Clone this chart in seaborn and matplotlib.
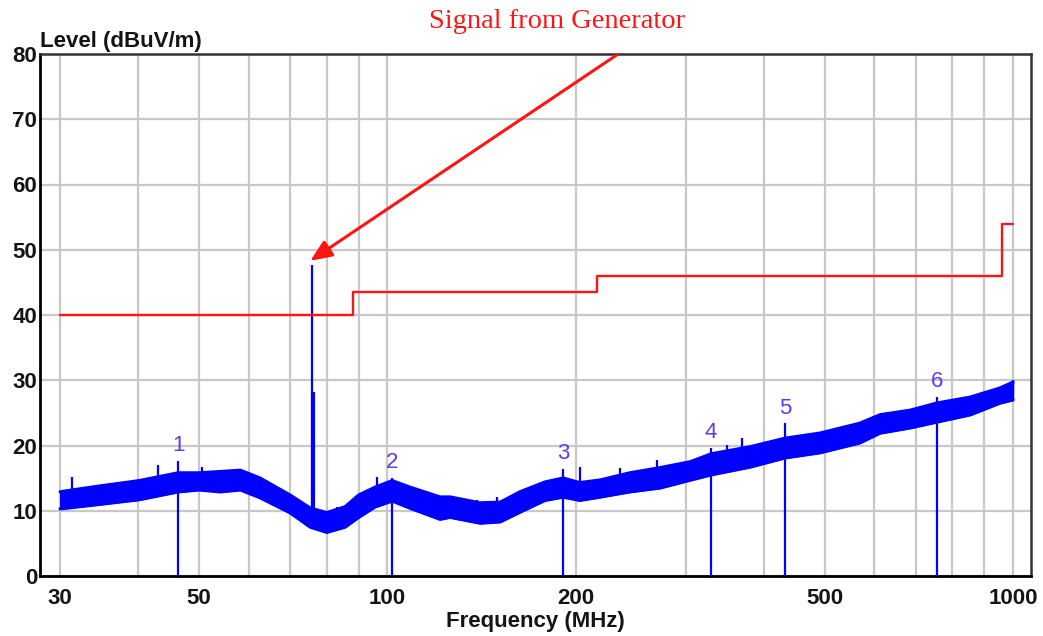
import matplotlib
matplotlib.use("Agg")
import matplotlib.pyplot as plt
import pandas as pd
import seaborn as sns
from matplotlib.ticker import FixedLocator, NullFormatter, FixedFormatter

# Measured trace envelope: frequency (MHz) with lower / upper level (dBuV/m)
trace_freq = [30, 34.8, 40.1, 46.3, 50, 54.1, 58.2, 62.6, 69.9, 75.3,
              80, 85.6, 90, 95.6, 101.8, 108.7, 121.4, 126, 140.7, 151.5,
              163, 178.7, 191, 203, 218.8, 244, 273, 305, 329, 380,
              432, 492, 569, 613, 685, 756, 854, 953, 1000]
trace_low = [10.3, 11.0, 11.7, 12.9, 13.2, 12.9, 13.2, 12.0, 9.7, 7.5,
             6.7, 7.5, 9.0, 10.6, 11.5, 10.4, 8.7, 9.0, 8.1, 8.3,
             9.8, 11.6, 12.1, 11.6, 12.1, 12.9, 13.5, 14.7, 15.5, 16.7,
             18.1, 18.9, 20.4, 21.9, 22.7, 23.6, 24.7, 26.5, 27.0]
trace_high = [12.9, 13.8, 14.6, 15.8, 15.8, 16.0, 16.2, 15.0, 12.4, 10.4,
              9.7, 10.6, 12.4, 13.6, 14.6, 13.6, 12.1, 12.1, 11.2, 11.3,
              12.9, 14.4, 15.0, 14.3, 14.7, 15.8, 16.6, 17.5, 18.7, 19.8,
              21.1, 21.9, 23.4, 24.7, 25.4, 26.5, 27.4, 28.8, 29.7]

# Isolated noise peaks rising above the trace
peak_freq = [31.3, 43.0, 50.6, 57.6, 83.0, 96.1, 139, 149.6, 203, 235,
             270, 349, 369, 569, 630, 1000]
peak_base = [11.0, 13.0, 14.0, 14.0, 8.0, 12.0, 9.0, 9.0, 13.0, 14.0,
             15.0, 17.0, 18.0, 21.0, 23.0, 28.0]
peak_level = [15.2, 17.0, 16.7, 16.4, 10.6, 15.2, 11.6, 12.1, 16.7, 16.6,
              17.8, 20.1, 21.1, 23.6, 25.1, 30.0]

# Generator signal lines
sig_freq = [75.7, 76.2]
sig_base = [9.0, 9.0]
sig_level = [47.7, 28.2]

# Limit line (steps)
limit_freq = [30, 88, 216, 960, 1000]
limit_level = [40, 43.5, 46, 54, 54]

# Markers
mk_freq = [46.3, 101.8, 191, 329, 432, 756]
mk_level = [17.6, 15.0, 16.4, 19.6, 23.4, 27.4]
mk_label = ["1", "2", "3", "4", "5", "6"]

# Axis ticks
x_major = [30, 50, 100, 200, 500, 1000]
x_grid = [30, 40, 50, 60, 70, 80, 90, 100, 200, 300, 400, 500, 600, 700, 800, 900, 1000]
y_ticks = [0, 10, 20, 30, 40, 50, 60, 70, 80]

sns.set_style("white")
plt.rcParams["font.family"] = ["Liberation Sans", "DejaVu Sans"]

W, H = 1043, 636
fig = plt.figure(figsize=(W / 100, H / 100), dpi=100)
ax = fig.add_axes([40 / W, 1 - 576 / H, (1031 - 40) / W, (576 - 54) / H])

BLUE = "#0000ff"
RED = "#ff1414"
TXT = "#141414"

# trace band
trace = pd.DataFrame({"freq": trace_freq, "low": trace_low, "high": trace_high})
ax.fill_between(trace["freq"], trace["low"], trace["high"], color=BLUE,
                linewidth=1.0, edgecolor=BLUE, zorder=3)
sns.lineplot(data=trace, x="freq", y="high", color=BLUE, lw=2.4, ax=ax, zorder=3)
sns.lineplot(data=trace, x="freq", y="low", color=BLUE, lw=2.4, ax=ax, zorder=3)

ax.vlines(peak_freq, peak_base, peak_level, color=BLUE, lw=1.6, zorder=3)
ax.vlines(sig_freq[0], sig_base[0], sig_level[0], color=BLUE, lw=1.6, zorder=4)
ax.vlines(sig_freq[1], sig_base[1], sig_level[1], color=BLUE, lw=3.0, zorder=4)

# limit line
limit = pd.DataFrame({"freq": limit_freq, "level": limit_level})
sns.lineplot(data=limit, x="freq", y="level", color=RED, lw=1.7,
             drawstyle="steps-post", ax=ax, zorder=5)

# markers
ax.vlines(mk_freq, 0, mk_level, color=BLUE, lw=1.6, zorder=4)
for f, v, t in zip(mk_freq, mk_level, mk_label):
    ax.annotate(t, xy=(f, v), xytext=(0, 11), textcoords="offset points",
                ha="center", va="center", fontsize=16, color="#5a3cf0", zorder=6)

ax.set_xscale("log")
ax.set_xlim(27.85, 1068.5)
ax.set_ylim(0, 80)

ax.xaxis.set_major_locator(FixedLocator(x_major))
ax.xaxis.set_major_formatter(FixedFormatter([str(v) for v in x_major]))
ax.xaxis.set_minor_locator(FixedLocator(x_grid))
ax.xaxis.set_minor_formatter(NullFormatter())
ax.set_yticks(y_ticks)
ax.set_yticklabels([str(v) for v in y_ticks])

ax.grid(True, which="both", axis="x", color="#c8c8c8", lw=1.6, zorder=0)
ax.grid(True, which="major", axis="y", color="#c8c8c8", lw=1.6, zorder=0)
ax.set_axisbelow(True)

ax.tick_params(axis="both", which="both", length=0)
ax.tick_params(axis="x", pad=9, labelsize=16, labelcolor=TXT)
ax.tick_params(axis="y", pad=2, labelsize=16, labelcolor=TXT)
for lab in ax.get_xticklabels() + ax.get_yticklabels():
    lab.set_fontweight("bold")

for side in ["left", "bottom"]:
    ax.spines[side].set_color("#000000")
    ax.spines[side].set_linewidth(2.0)
for side in ["top", "right"]:
    ax.spines[side].set_color("#333333")
    ax.spines[side].set_linewidth(1.8)

ax.set_xlabel("")
ax.set_ylabel("")

fig.text(40 / W, 1 - 47 / H, "Level (dBuV/m)", ha="left", va="baseline",
         fontsize=16, fontweight="bold", color=TXT)
fig.text(535 / W, 1 - 621 / H, "Frequency (MHz)", ha="center", va="center",
         fontsize=16, fontweight="bold", color=TXT)

# annotation for the generator signal
ax.annotate("", xy=(75.3, 48.3), xytext=(233, 79.9),
            arrowprops=dict(arrowstyle="-|>,head_length=1.3,head_width=0.55",
                            color=RED, lw=2.2, shrinkA=0, shrinkB=0),
            annotation_clip=False, zorder=7)
fig.text(557 / W, 1 - 21 / H, "Signal from Generator", ha="center", va="center",
         fontsize=20.5, color=RED, family=["Liberation Serif", "DejaVu Serif"])

fig.savefig("out.png", dpi=100)
